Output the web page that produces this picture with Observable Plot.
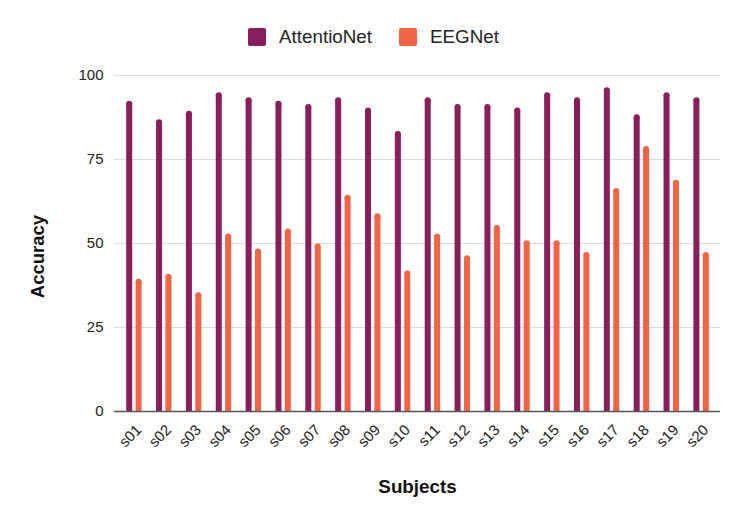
<!DOCTYPE html>
<html>
<head>
<meta charset="utf-8">
<script src="https://cdn.jsdelivr.net/npm/d3@7"></script>
<script src="https://cdn.jsdelivr.net/npm/@observablehq/plot@0.6"></script>
<style>
  body { margin: 0; background: #fff; font-family: "Liberation Sans", Arial, sans-serif; }
  #legend { width: 747px; height: 60px; display: flex; justify-content: center; align-items: center; padding-top: 14px; box-sizing: border-box; }
  .item { display: flex; align-items: center; font-size: 18.8px; color: #222; }
  .item + .item { margin-left: 27px; }
  .sw { width: 18px; height: 18px; border-radius: 2px; margin-right: 13px; }
</style>
</head>
<body>
<div id="legend"></div>
<div id="chart"></div>
<script>
const subjects = ["s01","s02","s03","s04","s05","s06","s07","s08","s09","s10",
                  "s11","s12","s13","s14","s15","s16","s17","s18","s19","s20"];
const models = ["AttentioNet", "EEGNet"];
const attentioNet = [92.5, 87, 89.5, 95, 93.5, 92.5, 91.5, 93.5, 90.5, 83.5,
                     93.5, 91.5, 91.5, 90.5, 95, 93.5, 96.5, 88.5, 95, 93.5];
const eegNet = [39.5, 41, 35.5, 53, 48.5, 54.5, 50, 64.5, 59, 42,
                53, 46.5, 55.5, 51, 51, 47.5, 66.5, 79, 69, 47.5];
const yTicks = [0, 25, 50, 75, 100];
const colors = ["#881e5b", "#f26444"];

const data = [];
subjects.forEach((s, i) => {
  data.push({subject: s, model: models[0], value: attentioNet[i]});
  data.push({subject: s, model: models[1], value: eegNet[i]});
});

const legend = document.getElementById("legend");
models.forEach((m, i) => {
  const it = document.createElement("div");
  it.className = "item";
  it.innerHTML = `<div class="sw" style="background:${colors[i]}"></div><span>${m}</span>`;
  legend.appendChild(it);
});

const offset = {AttentioNet: -4.7, EEGNet: 4.7};
const barMarks = models.map((m) => {
  const d = data.filter(r => r.model === m);
  return [
    Plot.ruleX(d, {x: "subject", y1: "value", y2: 0, stroke: "model", strokeWidth: 6, insetTop: 3, dx: offset[m]}),
    Plot.dot(d, {x: "subject", y: "value", r: 3, fill: "model", stroke: null, dx: offset[m], dy: 3})
  ];
});

const chart = Plot.plot({
  width: 747,
  height: 463,
  marginTop: 15,
  marginBottom: 112,
  marginLeft: 114,
  marginRight: 27,
  style: {fontFamily: "'Liberation Sans', Arial, sans-serif", fontSize: "15px", color: "#222", background: "#fff"},
  x: {type: "point", domain: subjects, padding: 0.65, round: false},
  y: {domain: [0, 100]},
  color: {domain: models, range: colors},
  marks: [
    Plot.ruleY(yTicks.filter(t => t > 0), {stroke: "#dcdcdc", strokeWidth: 1.2}),
    ...barMarks.flat(),
    Plot.ruleY([0], {stroke: "#555", strokeWidth: 1.6}),
    Plot.axisY({ticks: yTicks, tickSize: 0, tickPadding: 11, label: null, fontSize: 15}),
    Plot.axisX({tickSize: 0, tickRotate: -45, tickPadding: 16, dx: 5, label: null, fontSize: 15}),
    Plot.text(["Subjects"], {frameAnchor: "bottom", dy: 81, fontWeight: "bold", fontSize: 18.8, fill: "#111"}),
    Plot.text(["Accuracy"], {frameAnchor: "left", textAnchor: "middle", dx: -76, dy: 13, rotate: -90, fontWeight: "bold", fontSize: 18.5, fill: "#111"})
  ]
});
document.getElementById("chart").appendChild(chart);
</script>
</body>
</html>
